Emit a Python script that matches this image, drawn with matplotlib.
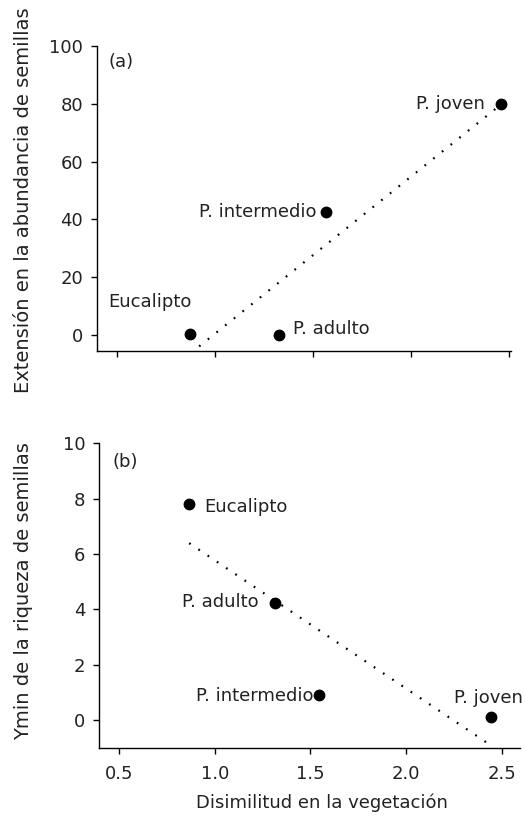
import matplotlib
matplotlib.use("Agg")
import matplotlib.pyplot as plt
import numpy as np

# sitios
sitios = ["Eucalipto", "P. adulto", "P. intermedio", "P. joven"]

# (a) extension en la abundancia de semillas
disim_a = [0.876, 1.33, 1.566, 2.46]
abund_a = [0.3, 0.0, 42.7, 80.0]

# (b) Ymin de la riqueza de semillas
disim_b = [0.866, 1.315, 1.545, 2.443]
riq_b = [7.8, 4.22, 0.9, 0.12]

plt.rcParams['font.family'] = ['DejaVu Sans']
plt.rcParams['font.size'] = 13

fig = plt.figure(figsize=(5.25, 8.26), dpi=100)
ax1 = fig.add_axes([0.185, 0.5754, 0.788, 0.369])
ax2 = fig.add_axes([0.1886, 0.0941, 0.802, 0.369])


def panel(ax, x, y, offsets, aligns):
    x = np.array(x)
    y = np.array(y)
    # recta de regresion
    b, a = np.polyfit(x, y, 1)
    xs = np.array([x.min(), x.max()])
    ax.plot(xs, a + b * xs, color='black', lw=1.6, linestyle=(0, (0.8, 4.2)))
    ax.plot(x, y, 'o', color='black', ms=7.5, zorder=3)
    for i in range(len(x)):
        ax.annotate(sitios[i], (x[i], y[i]), xytext=offsets[i],
                    textcoords='offset points', ha=aligns[i], va='center',
                    color='#222222')
    for s in ['top', 'right']:
        ax.spines[s].set_visible(False)
    for s in ['left', 'bottom']:
        ax.spines[s].set_linewidth(1.0)
    ax.tick_params(direction='out', length=4, width=1.0, colors='black',
                   labelcolor='#222222')
    ax.tick_params(axis='y', pad=6)
    ax.tick_params(axis='x', pad=8)


panel(ax1, disim_a, abund_a,
      [(-29.5, 23), (10, 4.3), (-6.3, 0), (-11.5, 0)],
      ['center', 'left', 'right', 'right'])
ax1.set_xlim(0.4, 2.51)
ax1.set_ylim(-5.4, 100)
ax1.set_yticks([0, 20, 40, 60, 80, 100])
ax1.set_xticks([0.5, 1.0, 1.5, 2.0, 2.5])
ax1.set_xticklabels([])
ax1.text(0.027, 0.947, '(a)', transform=ax1.transAxes, ha='left', va='center',
         color='#222222')
ax1.set_ylabel('Extensión en la abundancia de semillas', color='#222222',
               fontsize=14)
ax1.yaxis.set_label_coords(-0.155, 0.495)

panel(ax2, disim_b, riq_b,
      [(10.8, -2.2), (-11.5, 1), (-4.3, -0.7), (-26.6, 13.5)],
      ['left', 'right', 'right', 'left'])
ax2.set_xlim(0.395, 2.595)
ax2.set_ylim(-1.02, 10)
ax2.set_yticks([0, 2, 4, 6, 8, 10])
ax2.set_xticks([0.5, 1.0, 1.5, 2.0, 2.5])
ax2.set_xticklabels(['0.5', '1.0', '1.5', '2.0', '2.5'])
ax2.text(0.031, 0.939, '(b)', transform=ax2.transAxes, ha='left', va='center',
         color='#222222')
ax2.set_ylabel('Ymin de la riqueza de semillas', color='#222222', fontsize=14)
ax2.yaxis.set_label_coords(-0.157, 0.517)

fig.text(322 / 525, 1 - 803 / 826, 'Disimilitud en la vegetación',
         ha='center', va='center', color='#222222')

fig.savefig('out.png', dpi=100)
